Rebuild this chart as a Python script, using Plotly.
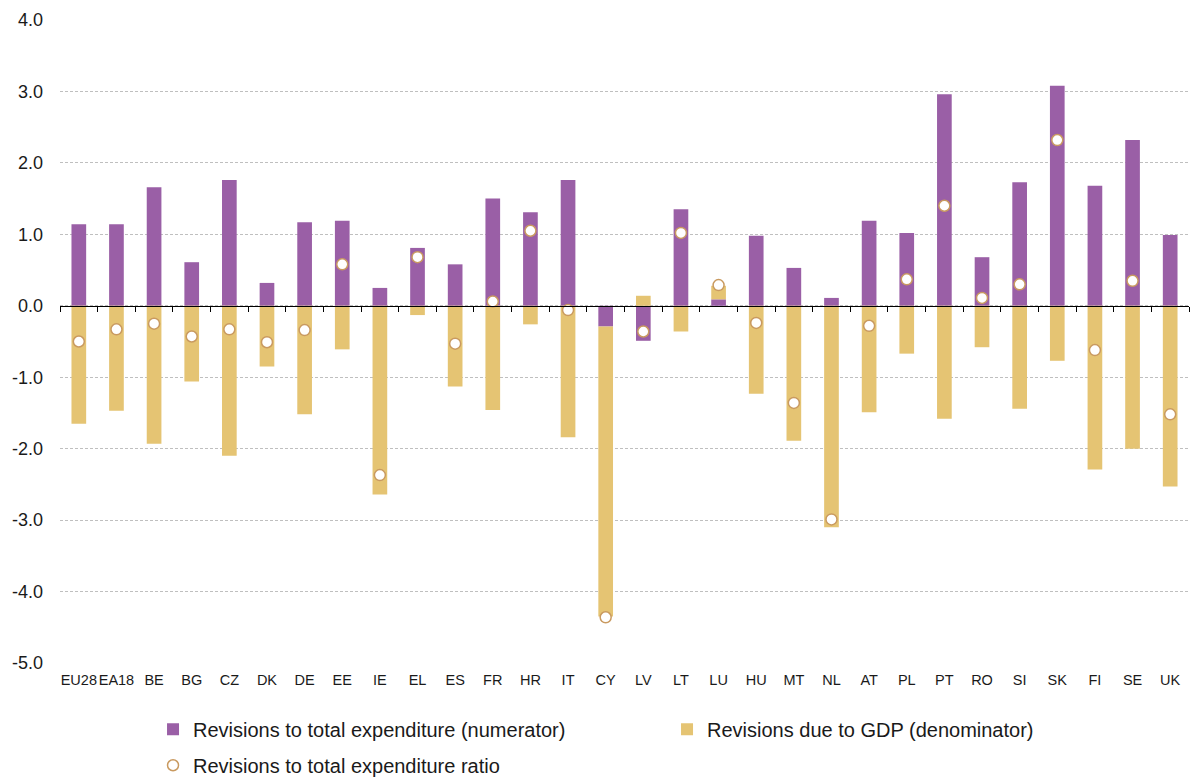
import plotly.graph_objects as go

countries = ["EU28", "EA18", "BE", "BG", "CZ", "DK", "DE", "EE", "IE", "EL",
             "ES", "FR", "HR", "IT", "CY", "LV", "LT", "LU", "HU", "MT",
             "NL", "AT", "PL", "PT", "RO", "SI", "SK", "FI", "SE", "UK"]

numerator = [1.14, 1.14, 1.66, 0.61, 1.76, 0.32, 1.17, 1.19, 0.25, 0.81,
             0.58, 1.50, 1.31, 1.76, -0.29, -0.49, 1.35, 0.09, 0.98, 0.53,
             0.11, 1.19, 1.02, 2.96, 0.68, 1.73, 3.08, 1.68, 2.32, 0.99]

denominator = [-1.65, -1.47, -1.93, -1.06, -2.10, -0.85, -1.52, -0.61, -2.64, -0.13,
               -1.13, -1.46, -0.26, -1.84, -4.06, 0.14, -0.36, 0.19, -1.23, -1.89,
               -3.10, -1.49, -0.67, -1.58, -0.58, -1.44, -0.77, -2.29, -2.00, -2.53]

ratio = [-0.50, -0.33, -0.25, -0.43, -0.33, -0.51, -0.34, 0.58, -2.37, 0.68,
         -0.53, 0.06, 1.05, -0.06, -4.36, -0.36, 1.02, 0.29, -0.24, -1.36,
         -2.99, -0.28, 0.37, 1.40, 0.11, 0.30, 2.32, -0.62, 0.35, -1.52]

y_tick_vals = [4, 3, 2, 1, 0, -1, -2, -3, -4, -5]
y_tick_text = ["4.0", "3.0", "2.0", "1.0", "0.0", "-1.0", "-2.0", "-3.0", "-4.0", "-5.0"]

FONT = "Liberation Sans, Arial, sans-serif"
PURPLE = "#9A5FA6"
YELLOW = "#E5C473"
TAN = "#C99A60"

fig = go.Figure()
fig.add_trace(go.Bar(
    x=countries, y=numerator, name="Revisions to total expenditure (numerator)",
    marker=dict(color=PURPLE, line=dict(width=0)), legend="legend",
))
fig.add_trace(go.Bar(
    x=countries, y=denominator, name="Revisions due to GDP (denominator)",
    marker=dict(color=YELLOW, line=dict(width=0)), legend="legend",
))
fig.add_trace(go.Scatter(
    x=countries, y=ratio, name="Revisions to total expenditure ratio",
    mode="markers", xaxis="x2", legend="legend2",
    marker=dict(symbol="circle", size=11, color="white", line=dict(color=TAN, width=1.5)),
))

fig.update_layout(
    width=1192, height=778,
    margin=dict(l=60, r=3, t=20, b=115, autoexpand=False),
    paper_bgcolor="white", plot_bgcolor="white",
    barmode="relative", bargap=0.61,
    font=dict(family=FONT, color="#1a1a1a"),
    xaxis=dict(
        type="category", range=[-0.5, 29.5], showgrid=False, zeroline=False,
        showline=False, ticks="", tickangle=0, automargin=False,
        tickfont=dict(size=14.5, color="#1a1a1a"), ticklabelstandoff=6,
    ),
    xaxis2=dict(
        type="category", overlaying="x", anchor="free", position=5 / 9,
        range=[-0.5, 29.5], showgrid=False, zeroline=False, showticklabels=True,
        tickfont=dict(size=10, color="rgba(0,0,0,0)"), tickangle=0,
        showline=True, linecolor="#000000", linewidth=1.3,
        ticks="outside", tickson="boundaries", ticklen=5, tickcolor="#000000",
        tickwidth=1.3, layer="above traces", automargin=False,
    ),
    yaxis=dict(
        range=[-5, 4], tickvals=y_tick_vals, ticktext=y_tick_text,
        showgrid=True, gridcolor="#BFBFBF", gridwidth=1, griddash="3px,2px",
        zeroline=False, showline=False, ticks="", automargin=False,
        tickfont=dict(size=18, color="#1a1a1a"), ticklabelstandoff=16,
    ),
    legend=dict(
        orientation="h", x=0.0824, xanchor="left", y=-0.1031, yanchor="middle",
        entrywidth=469, entrywidthmode="pixels",
        font=dict(size=20, family=FONT, color="#1a1a1a"),
        bgcolor="rgba(0,0,0,0)",
    ),
    legend2=dict(
        orientation="h", x=0.0824, xanchor="left", y=-0.159, yanchor="middle",
        font=dict(size=20, family=FONT, color="#1a1a1a"),
        bgcolor="rgba(0,0,0,0)",
    ),
    showlegend=True,
)

fig.write_html(
    "out.html",
    config={"displayModeBar": False},
    post_script="document.body.style.margin='0';document.body.style.padding='0';",
)
